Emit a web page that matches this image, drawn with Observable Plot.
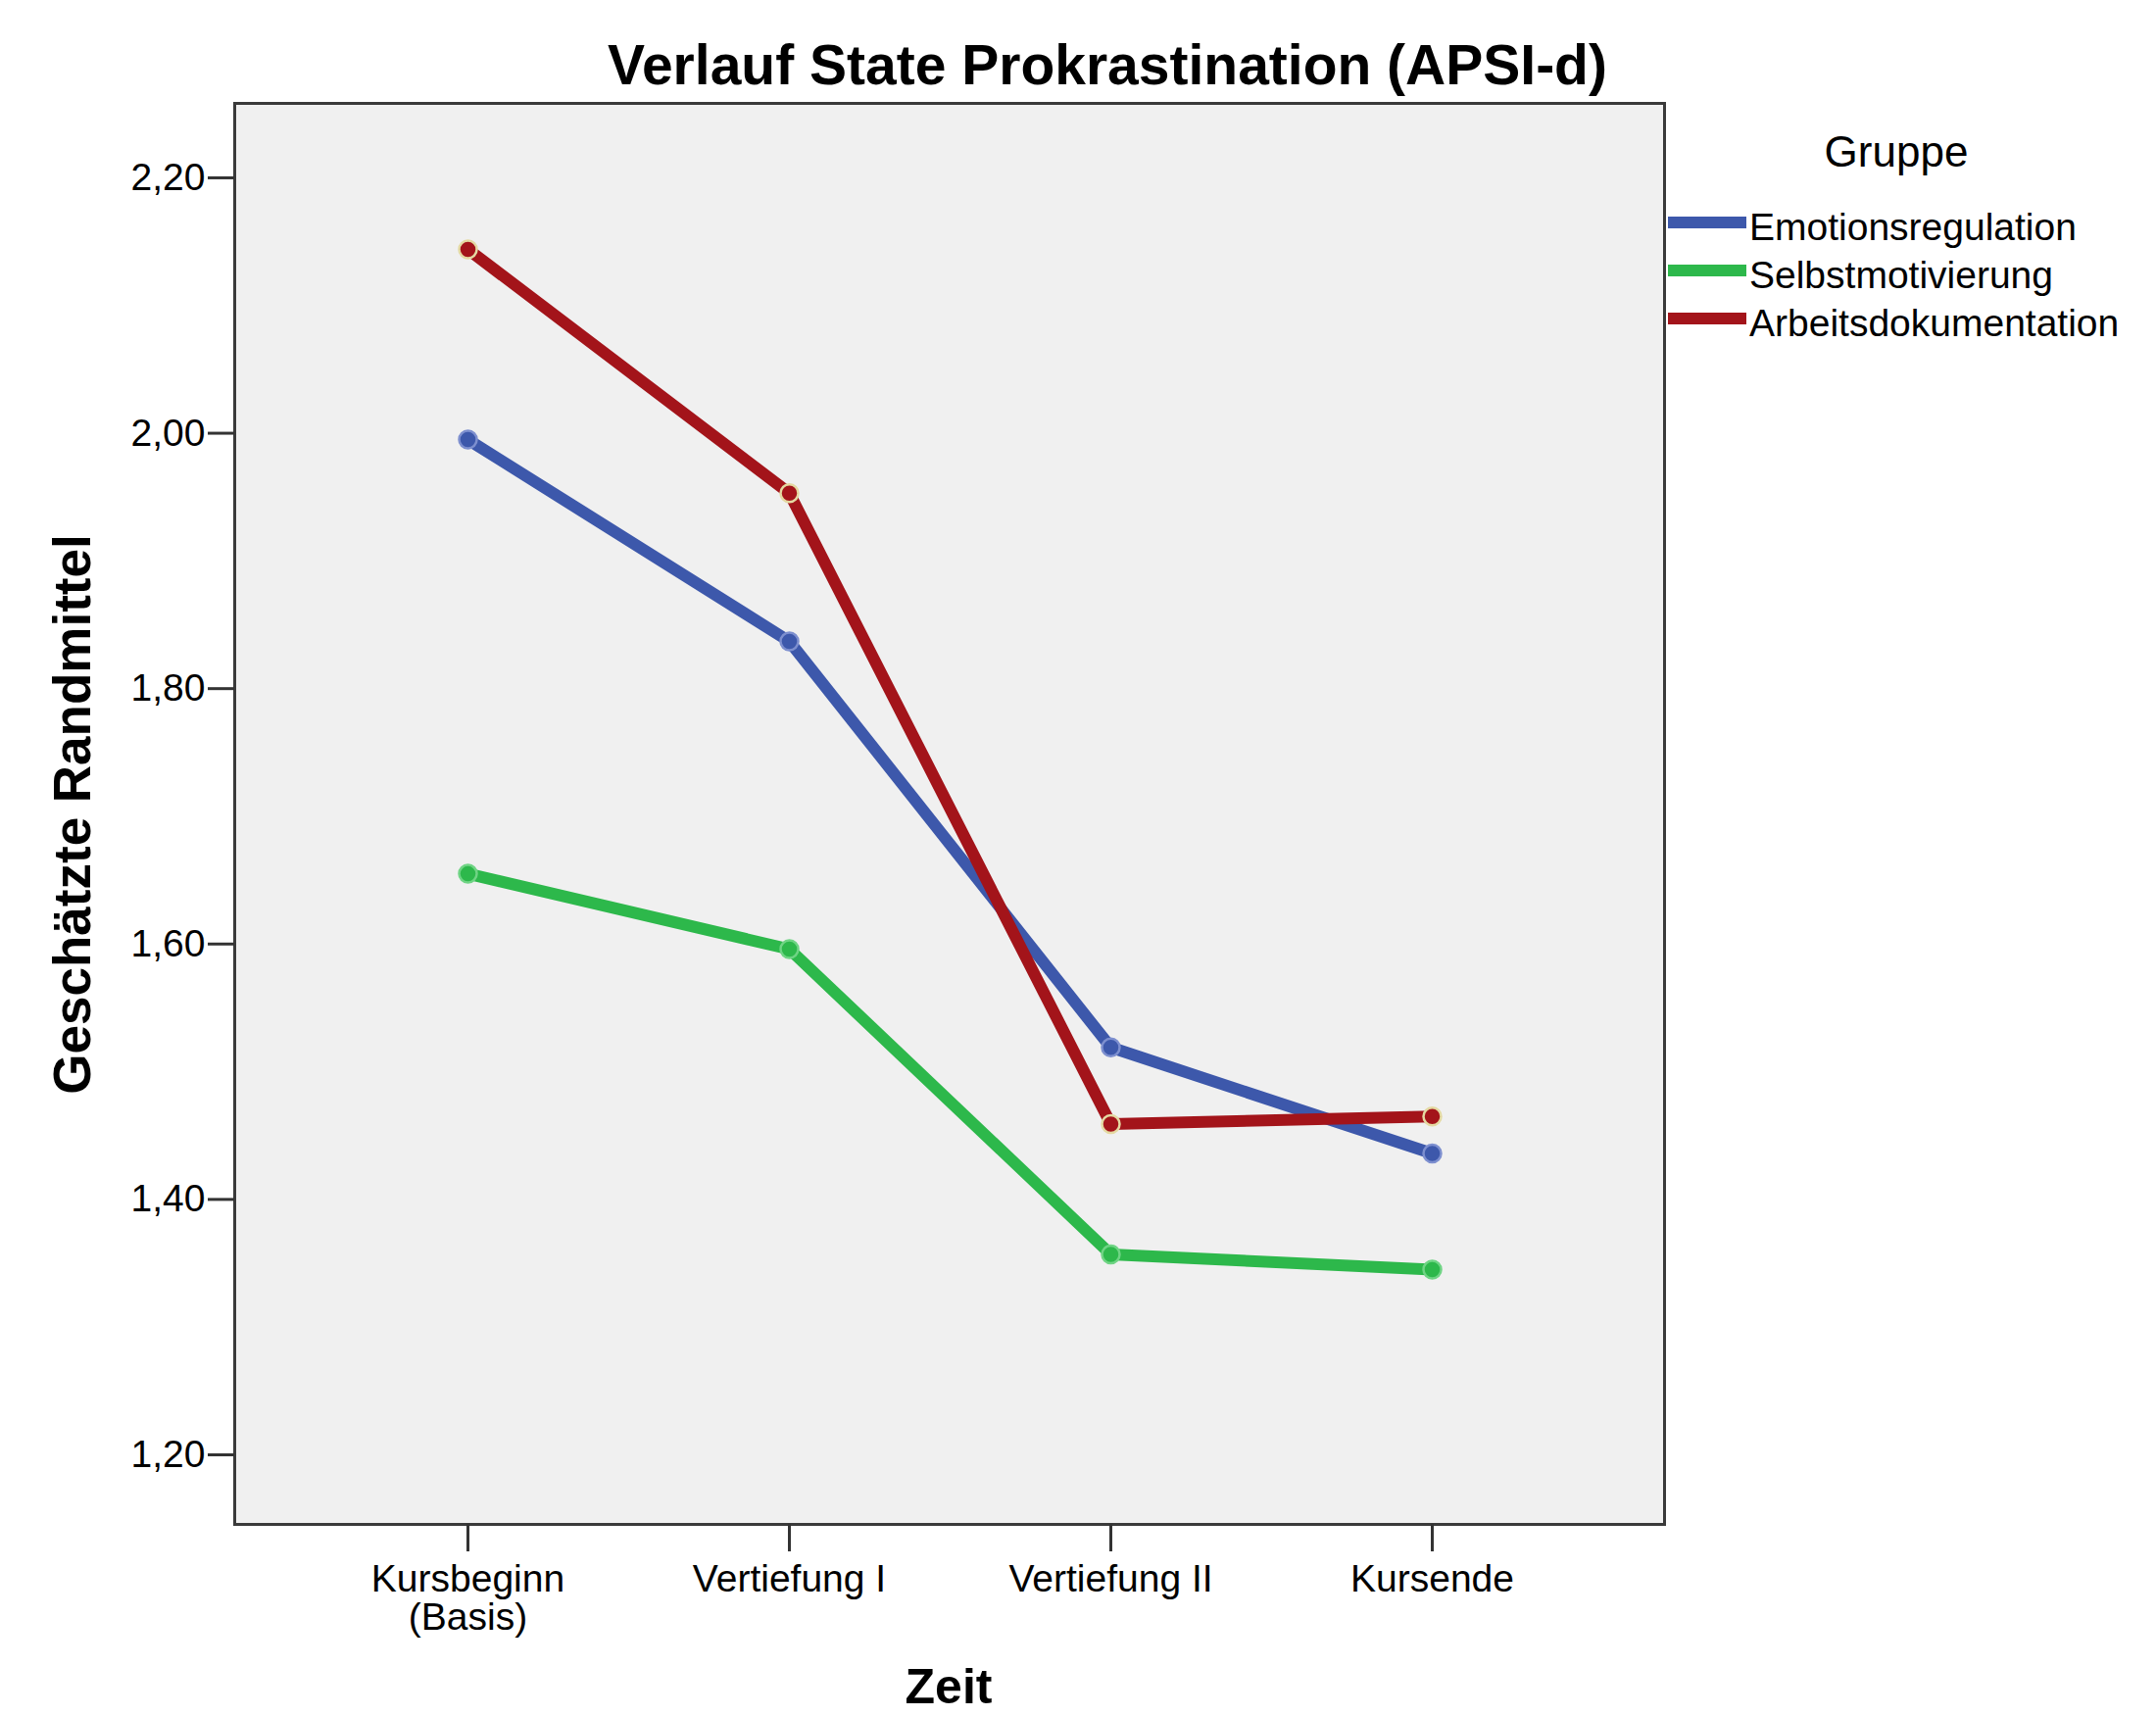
<!DOCTYPE html>
<html>
<head>
<meta charset="utf-8">
<script src="https://cdn.jsdelivr.net/npm/d3@7"></script>
<script src="https://cdn.jsdelivr.net/npm/@observablehq/plot@0.6"></script>
<style>
  html, body { margin: 0; padding: 0; background: #fff; }
  #chart { position: relative; width: 2200px; height: 1751px; }
</style>
</head>
<body>
<div id="chart"></div>
<script>
// ---- data ----
const zeitpunkte = ["Kursbeginn\n(Basis)", "Vertiefung I", "Vertiefung II", "Kursende"];
const gruppen = ["Emotionsregulation", "Selbstmotivierung", "Arbeitsdokumentation"];
const emotionsregulation = [1.995, 1.837, 1.519, 1.436];
const selbstmotivierung = [1.655, 1.596, 1.357, 1.345];
const arbeitsdokumentation = [2.144, 1.953, 1.459, 1.465];
const yTicks = [1.2, 1.4, 1.6, 1.8, 2.0, 2.2];
const farben = ["#3d58ab", "#2db84b", "#a3141a"];
const ringFarben = ["#7d8fcf", "#6fd484", "#e4d9a2"];
const titel = "Verlauf State Prokrastination (APSI-d)";
const yTitel = "Geschätzte Randmittel";
const xTitel = "Zeit";
const legendeTitel = "Gruppe";

const reihen = [emotionsregulation, selbstmotivierung, arbeitsdokumentation];
const data = [];
gruppen.forEach((g, gi) => {
  zeitpunkte.forEach((z, zi) => data.push({gruppe: g, zeit: z, wert: reihen[gi][zi]}));
});

const font = "'Liberation Sans', Arial, sans-serif";

const chart = Plot.plot({
  width: 2200,
  height: 1751,
  marginLeft: 239,
  marginRight: 502,
  marginTop: 105,
  marginBottom: 196,
  style: {fontFamily: font, fontSize: "39px", color: "#000", background: "#fff"},
  x: {type: "point", domain: zeitpunkte, padding: 0.723},
  y: {domain: [1.1455, 2.2583]},
  color: {domain: gruppen, range: farben},
  marks: [
    Plot.frame({fill: "#f0f0f0"}),
    Plot.line(data, {x: "zeit", y: "wert", z: "gruppe", stroke: "gruppe", strokeWidth: 12, strokeLinejoin: "round"}),
    ...gruppen.map((g, gi) => Plot.dot(data.filter(d => d.gruppe === g), {
      x: "zeit", y: "wert", r: 9, fill: farben[gi], stroke: ringFarben[gi], strokeWidth: 2.5
    })),
    Plot.frame({stroke: "#3a3a3a", strokeWidth: 3}),
    Plot.axisX({tickSize: 28, tickPadding: 13, lineHeight: 1, label: null, stroke: "#333", strokeWidth: 3}),
    Plot.axisY({ticks: yTicks, tickFormat: d => d.toFixed(2).replace(".", ","), tickSize: 27, tickPadding: 3,
      label: null, stroke: "#333", strokeWidth: 3})
  ]
});
document.getElementById("chart").appendChild(chart);

// titles and legend
const svg = d3.select(chart);
svg.append("text").attr("x", 1130).attr("y", 86).attr("text-anchor", "middle")
  .attr("font-family", font).attr("font-weight", "bold").attr("font-size", 57).attr("fill", "#000").text(titel);
svg.append("text").attr("x", 968).attr("y", 1738).attr("text-anchor", "middle")
  .attr("font-family", font).attr("font-weight", "bold").attr("font-size", 50).attr("fill", "#000").text(xTitel);
svg.append("text").attr("transform", "translate(92,831) rotate(-90)").attr("text-anchor", "middle")
  .attr("font-family", font).attr("font-weight", "bold").attr("font-size", 53).attr("fill", "#000").text(yTitel);

const leg = svg.append("g").attr("font-family", font);
leg.append("text").attr("x", 1935).attr("y", 170).attr("text-anchor", "middle")
  .attr("font-size", 44).attr("fill", "#000").text(legendeTitel);
gruppen.forEach((g, i) => {
  const y = 227 + i * 49;
  leg.append("line").attr("x1", 1702).attr("x2", 1782).attr("y1", y).attr("y2", y)
    .attr("stroke", farben[i]).attr("stroke-width", 12);
  leg.append("text").attr("x", 1785).attr("y", y + 18).attr("text-anchor", "start")
    .attr("font-size", 39).attr("fill", "#000").text(g);
});
</script>
</body>
</html>
